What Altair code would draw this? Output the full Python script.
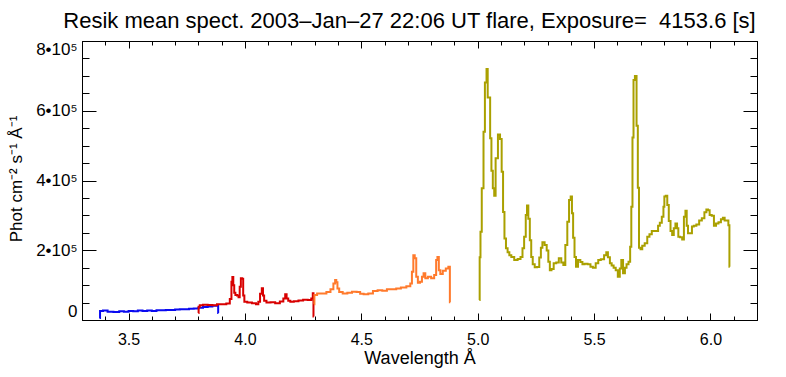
import altair as alt
import pandas as pd

# ---------------- data ----------------
blue_wl = [3.375, 3.380, 3.40, 3.42, 3.45, 3.47, 3.49, 3.51, 3.53, 3.55, 3.57, 3.59, 3.61,
           3.63, 3.65, 3.67, 3.69, 3.71, 3.73, 3.75, 3.77, 3.79, 3.81, 3.83, 3.85, 3.87,
           3.884, 3.886]
blue_flux = [6e3, 26e3, 27e3, 24e3, 23e3, 25e3, 24e3, 26e3, 25e3, 27e3, 26e3, 27e3, 26e3,
             28e3, 28e3, 29e3, 29e3, 30e3, 31e3, 31e3, 32e3, 33e3, 35e3, 37e3, 39e3, 41e3,
             41e3, 20e3]

red_wl = [3.800, 3.802, 3.81, 3.83, 3.85, 3.87, 3.89, 3.91, 3.93, 3.94, 3.944, 3.948,
          3.952, 3.956, 3.962, 3.97, 3.975, 3.98, 3.985, 3.99, 3.995, 4.00, 4.02, 4.04,
          4.055, 4.06, 4.07, 4.075, 4.08, 4.085, 4.10, 4.12, 4.14, 4.16, 4.17, 4.176,
          4.182, 4.19, 4.20, 4.22, 4.24, 4.26, 4.28, 4.29, 4.293, 4.296]
red_flux = [20e3, 38e3, 42e3, 44e3, 43e3, 42e3, 45e3, 45e3, 47e3, 60e3, 110e3, 123e3,
            100e3, 78e3, 72e3, 70e3, 65e3, 95e3, 120e3, 118e3, 70e3, 52e3, 50e3, 48e3,
            45e3, 52e3, 75e3, 91e3, 70e3, 55e3, 50e3, 51e3, 48e3, 53e3, 62e3, 74e3,
            62e3, 55e3, 52e3, 54e3, 56e3, 58e3, 57e3, 62e3, 77e3, 10e3]

orange_wl = [4.297, 4.30, 4.32, 4.34, 4.36, 4.375, 4.385, 4.39, 4.395, 4.40, 4.41, 4.43,
             4.45, 4.47, 4.49, 4.50, 4.52, 4.54, 4.56, 4.58, 4.60, 4.62, 4.64, 4.66,
             4.68, 4.707, 4.714, 4.721, 4.726, 4.733, 4.739, 4.747, 4.757, 4.764, 4.771,
             4.779, 4.793, 4.807, 4.819, 4.824, 4.83, 4.836, 4.843, 4.857, 4.869, 4.879,
             4.882]
orange_flux = [45e3, 72e3, 76e3, 76e3, 80e3, 88e3, 105e3, 115e3, 108e3, 90e3, 80e3, 76e3,
               78e3, 81e3, 80e3, 75e3, 74e3, 76e3, 83e3, 85e3, 84e3, 88e3, 88e3, 90e3,
               93e3, 97e3, 105e3, 138e3, 186e3, 177e3, 124e3, 107e3, 110e3, 124e3, 134e3,
               120e3, 124e3, 120e3, 129e3, 172e3, 181e3, 143e3, 132e3, 141e3, 148e3, 153e3,
               51e3]

olive_wl = [5.007, 5.010, 5.014, 5.021, 5.029, 5.033, 5.036, 5.040, 5.046, 5.05, 5.057,
            5.061, 5.069, 5.073, 5.081, 5.093, 5.099, 5.107, 5.111, 5.119, 5.124, 5.133,
            5.139, 5.15, 5.164, 5.179, 5.189, 5.196, 5.203, 5.21, 5.214, 5.221, 5.227,
            5.233, 5.24, 5.25, 5.26, 5.269, 5.274, 5.282, 5.293, 5.30, 5.307, 5.313,
            5.321, 5.332, 5.343, 5.354, 5.364, 5.372, 5.381, 5.389, 5.396, 5.403, 5.407,
            5.413, 5.419, 5.426, 5.436, 5.446, 5.454, 5.465, 5.479, 5.49, 5.50, 5.514,
            5.522, 5.536, 5.55, 5.555, 5.564, 5.572, 5.579, 5.589, 5.597, 5.607, 5.614,
            5.62, 5.629, 5.636, 5.643, 5.653, 5.657, 5.663, 5.667, 5.672, 5.679, 5.686,
            5.69, 5.696, 5.703, 5.711, 5.724, 5.733, 5.743, 5.753, 5.771, 5.779, 5.786,
            5.796, 5.80, 5.804, 5.812, 5.817, 5.825, 5.832, 5.839, 5.846, 5.853, 5.86,
            5.864, 5.874, 5.883, 5.889, 5.896, 5.90, 5.907, 5.917, 5.924, 5.933, 5.946,
            5.957, 5.969, 5.979, 5.986, 5.993, 6.00, 6.011, 6.019, 6.029, 6.04, 6.05,
            6.057, 6.065, 6.074, 6.08, 6.083]
olive_flux = [57e3, 180e3, 253e3, 378e3, 540e3, 681e3, 681e3, 720e3, 638e3, 638e3, 521e3,
              428e3, 378e3, 356e3, 464e3, 532e3, 519e3, 425e3, 310e3, 234e3, 206e3, 194e3,
              186e3, 181e3, 172e3, 175e3, 181e3, 206e3, 239e3, 301e3, 328e3, 290e3, 229e3,
              181e3, 160e3, 151e3, 152e3, 179e3, 207e3, 223e3, 215e3, 199e3, 167e3, 143e3,
              146e3, 163e3, 165e3, 177e3, 165e3, 158e3, 215e3, 282e3, 344e3, 354e3, 306e3,
              236e3, 181e3, 153e3, 172e3, 166e3, 160e3, 161e3, 160e3, 153e3, 150e3, 163e3,
              172e3, 174e3, 186e3, 194e3, 180e3, 163e3, 156e3, 150e3, 143e3, 124e3, 148e3,
              172e3, 134e3, 150e3, 160e3, 167e3, 210e3, 325e3, 523e3, 688e3, 700e3, 557e3,
              379e3, 207e3, 203e3, 213e3, 220e3, 239e3, 246e3, 255e3, 255e3, 270e3, 279e3,
              296e3, 325e3, 354e3, 356e3, 330e3, 284e3, 255e3, 244e3, 263e3, 277e3, 263e3,
              239e3, 237e3, 231e3, 296e3, 313e3, 270e3, 249e3, 249e3, 268e3, 270e3, 274e3,
              285e3, 292e3, 309e3, 317e3, 315e3, 301e3, 299e3, 270e3, 277e3, 280e3, 289e3,
              293e3, 285e3, 285e3, 272e3, 153e3]

segments = ["blue", "red", "orange", "olive"]
seg_colors = ["#0a0af0", "#d80000", "#ff7a2c", "#aaa000"]

x_major = [3.5, 4.0, 4.5, 5.0, 5.5, 6.0]
x_minor = [3.3, 3.4, 3.5, 3.6, 3.7, 3.8, 3.9, 4.0, 4.1, 4.2, 4.3, 4.4, 4.5, 4.6, 4.7,
           4.8, 4.9, 5.0, 5.1, 5.2, 5.3, 5.4, 5.5, 5.6, 5.7, 5.8, 5.9, 6.0, 6.1, 6.2]
y_major = [0, 200000, 400000, 600000, 800000]
y_minor = [0, 50000, 100000, 150000, 200000, 250000, 300000, 350000, 400000, 450000,
           500000, 550000, 600000, 650000, 700000, 750000, 800000]

title_text = "Resik mean spect. 2003–Jan–27 22:06 UT flare, Exposure=\u00a0 4153.6 [s]"

# ---------------- build ----------------
rows = []
for name, wl, fl in [("blue", blue_wl, blue_flux), ("red", red_wl, red_flux),
                     ("orange", orange_wl, orange_flux), ("olive", olive_wl, olive_flux)]:
    for a, b in zip(wl, fl):
        rows.append({"wl": a, "flux": b, "seg": name})
df = pd.DataFrame(rows)
frame_df = pd.DataFrame({"wl": [3.3, 6.2], "flux": [0, 800000]})

W, H = 675, 279
FONT = "Liberation Sans"

xscale = alt.Scale(domain=[3.3, 6.2], nice=False, zero=False)
yscale = alt.Scale(domain=[0, 800000], nice=False, zero=False)

lines = alt.Chart(df).mark_line(interpolate="step", strokeWidth=2, clip=True).encode(
    x=alt.X("wl:Q", scale=xscale,
            axis=alt.Axis(title="Wavelength Å", values=x_major, format=".1f",
                          ticks=False, tickSize=0, domain=False, grid=False,
                          labelFont=FONT, labelFontSize=16, labelColor="black",
                          labelPadding=11, labelBaseline="top",
                          titleFont=FONT, titleFontSize=18, titleFontWeight="normal",
                          titleColor="black", titleX=W / 2, titleY=43,
                          titleBaseline="alphabetic", titleAlign="center")),
    y=alt.Y("flux:Q", scale=yscale,
            axis=alt.Axis(title="Phot cm⁻² s⁻¹ Å⁻¹", values=y_major,
                          labelExpr="datum.value == 0 ? '0' : (datum.value / 100000) + '•10⁵'",
                          ticks=False, tickSize=0, domain=False, grid=False,
                          labelFont=FONT, labelFontSize=17, labelColor="black",
                          labelPadding=5, labelFlush=True,
                          titleFont=FONT, titleFontSize=17, titleFontWeight="normal",
                          titleColor="black", titleX=-61, titleY=H / 2 - 2, titleAngle=270,
                          titleBaseline="alphabetic", titleAlign="center")),
    color=alt.Color("seg:N", scale=alt.Scale(domain=segments, range=seg_colors), legend=None),
    detail="seg:N",
)


def tick_layer(xorient, yorient, xvals, yvals, xsize, ysize):
    return alt.Chart(frame_df).mark_point(opacity=0).encode(
        x=alt.X("wl:Q", scale=xscale,
                axis=alt.Axis(orient=xorient, offset=-H, values=xvals, tickSize=xsize,
                              tickColor="black", tickWidth=1, labels=False, domain=False,
                              grid=False, title=None)),
        y=alt.Y("flux:Q", scale=yscale,
                axis=alt.Axis(orient=yorient, offset=-W, values=yvals, tickSize=ysize,
                              tickColor="black", tickWidth=1, labels=False, domain=False,
                              grid=False, title=None)),
    )


chart = alt.layer(
    lines,
    tick_layer("top", "right", x_major, y_major, 7, 14),
    tick_layer("top", "right", x_minor, y_minor, 4, 7),
    tick_layer("bottom", "left", x_major, y_major, 7, 14),
    tick_layer("bottom", "left", x_minor, y_minor, 4, 7),
).resolve_axis(x="independent", y="independent").properties(
    width=W, height=H,
    autosize="none",
    padding={"left": 82, "top": 41, "right": 29, "bottom": 57},
    background="white",
    title=alt.TitleParams(text=title_text, font=FONT, fontSize=22,
                          fontWeight="normal", color="black", anchor="middle", dx=-10,
                          offset=13, baseline="alphabetic", dy=25),
).configure_view(stroke="black", strokeWidth=1)

chart.save("out.html", embed_options={"renderer": "svg", "actions": False})
